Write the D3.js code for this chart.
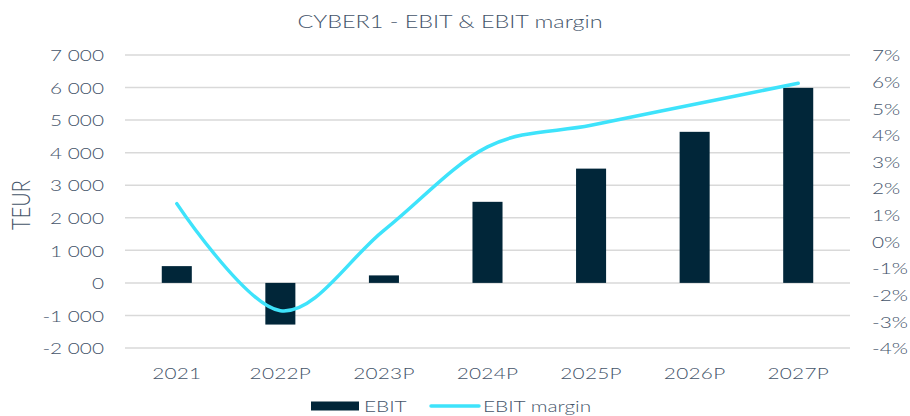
<!DOCTYPE html>
<html>
<head>
<meta charset="utf-8">
<script src="https://cdn.jsdelivr.net/npm/d3@7"></script>
<style>
body { margin: 0; background: #fff; }
text { font-family: Lato, "Open Sans", sans-serif; font-weight: 300; fill: #44546a; }
</style>
</head>
<body>
<script>
// data
var years = ["2021", "2022P", "2023P", "2024P", "2025P", "2026P", "2027P"];
var ebit = [515, -1280, 230, 2490, 3510, 4640, 5990];
var margin = [1.42, -2.6, 0.42, 3.55, 4.36, 5.15, 5.94];
var leftTicks = [-2000, -1000, 0, 1000, 2000, 3000, 4000, 5000, 6000, 7000];
var rightTicks = [-4, -3, -2, -1, 0, 1, 2, 3, 4, 5, 6, 7];

var W = 910, H = 416;
var m = { left: 125, right: 60, top: 55, bottom: 68 };
var stretch = "scale(1.3,1)"; // the reference font renders wide

var svg = d3.select("body").append("svg")
  .attr("width", W)
  .attr("height", H);

var x = d3.scaleBand().domain(years).range([m.left, W - m.right]).paddingInner(0.71).paddingOuter(0.355);
var yL = d3.scaleLinear().domain([-2000, 7000]).range([H - m.bottom, m.top]);
var yR = d3.scaleLinear().domain([-4, 7]).range([H - m.bottom, m.top]);

// thousands with a space
function fmtL(d) {
  var s = Math.abs(d) >= 1000 ? Math.floor(Math.abs(d) / 1000) + " " + d3.format("03d")(Math.abs(d) % 1000) : String(Math.abs(d));
  return (d < 0 ? "-" : "") + s;
}

// gridlines
svg.append("g")
  .selectAll("line")
  .data(leftTicks)
  .enter()
  .append("line")
  .attr("x1", m.left)
  .attr("x2", W - m.right)
  .attr("y1", function(d) { return yL(d); })
  .attr("y2", function(d) { return yL(d); })
  .attr("stroke", "#d9d9d9")
  .attr("stroke-width", 1.5);

// left axis
var gl = svg.append("g")
  .attr("transform", "translate(" + (m.left - 21) + ",0)")
  .call(d3.axisLeft(yL).tickValues(leftTicks).tickFormat(fmtL).tickSize(0).tickPadding(0));
gl.select(".domain").remove();
gl.selectAll("text").style("font-size", "16px").attr("fill", "#44546a").attr("dy", "0.36em").attr("transform", stretch);

// right axis
var gr = svg.append("g")
  .attr("transform", "translate(" + (W - m.right + 22) + ",0)")
  .call(d3.axisRight(yR).tickValues(rightTicks).tickFormat(function(d) { return d + "%"; }).tickSize(0).tickPadding(0));
gr.select(".domain").remove();
gr.selectAll("text").style("font-size", "16px").attr("fill", "#44546a").attr("dy", "0.36em").attr("transform", stretch);

// x axis
var gx = svg.append("g")
  .attr("transform", "translate(0," + (H - m.bottom + 25) + ")")
  .call(d3.axisBottom(x).tickSize(0).tickPadding(0));
gx.select(".domain").remove();
gx.selectAll("text").style("font-size", "16px").style("letter-spacing", "0.2px").attr("fill", "#44546a").attr("dy", "0.36em").attr("transform", stretch);

// bars
svg.selectAll("rect.bar")
  .data(ebit)
  .enter()
  .append("rect")
  .attr("class", "bar")
  .attr("x", function(d, i) { return x(years[i]); })
  .attr("width", x.bandwidth())
  .attr("y", function(d) { return Math.min(yL(d), yL(0)); })
  .attr("height", function(d) { return Math.abs(yL(d) - yL(0)); })
  .attr("fill", "#012639");

// smoothed margin line
var line = d3.line()
  .x(function(d, i) { return x(years[i]) + x.bandwidth() / 2; })
  .y(function(d) { return yR(d); })
  .curve(d3.curveCatmullRom.alpha(0));

svg.append("path")
  .datum(margin)
  .attr("d", line)
  .attr("fill", "none")
  .attr("stroke", "#3ee3fb")
  .attr("stroke-width", 3.5)
  .attr("stroke-linecap", "round");

// title
svg.append("text")
  .attr("transform", "translate(450,28) " + stretch)
  .attr("text-anchor", "middle")
  .style("font-size", "18px")
  .text("CYBER1 - EBIT & EBIT margin");

// y label
svg.append("text")
  .attr("transform", "translate(29.5,205) " + stretch + " rotate(-90)")
  .attr("text-anchor", "middle")
  .style("font-size", "20px")
  .text("TEUR");

// legend
var lg = svg.append("g").attr("transform", "translate(0,406)");
lg.append("rect").attr("x", 311).attr("y", -4.5).attr("width", 48).attr("height", 9).attr("fill", "#012639");
lg.append("text").attr("transform", "translate(364,0) " + stretch).attr("dy", "0.36em").style("font-size", "16px").text("EBIT");
lg.append("line").attr("x1", 431).attr("x2", 479).attr("y1", 0).attr("y2", 0)
  .attr("stroke", "#3ee3fb").attr("stroke-width", 3.5).attr("stroke-linecap", "round");
lg.append("text").attr("transform", "translate(483,0) " + stretch).attr("dy", "0.36em").style("font-size", "16px").text("EBIT margin");
</script>
</body>
</html>
